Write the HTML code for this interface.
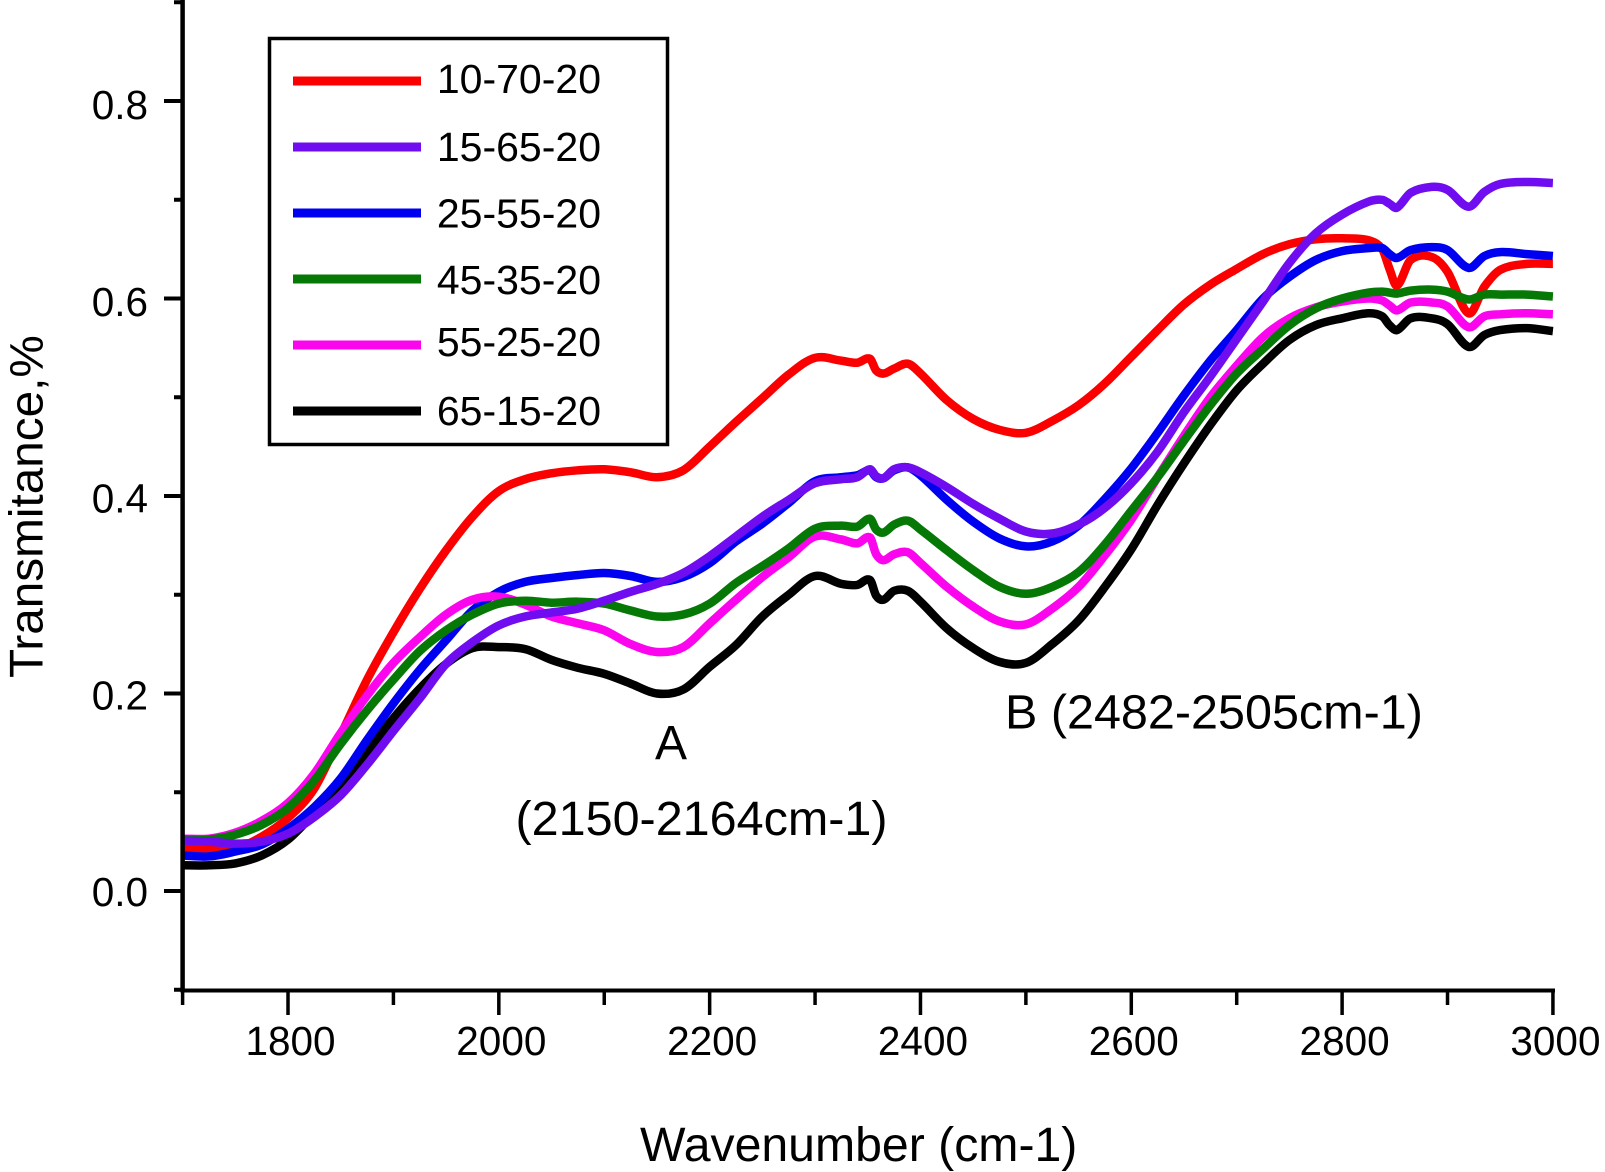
<!DOCTYPE html>
<html lang="en">
<head>
<meta charset="utf-8">
<title>Transmittance vs Wavenumber</title>
<style>
html,body{margin:0;padding:0;background:#fff;}
svg{display:block;}
text{font-family:"Liberation Sans",Arial,sans-serif;fill:#000;}
</style>
</head>
<body>
<svg id="chart" xmlns="http://www.w3.org/2000/svg" width="1605" height="1172" viewBox="0 0 1605 1172">
  <rect x="0" y="0" width="1605" height="1172" fill="#fff"/>
  <g id="series-layer"></g>
  <g id="axis-layer"></g>
  <rect x="269.5" y="38.5" width="398" height="406" fill="#fff" stroke="#000" stroke-width="3.5"/>
  <g id="legend-layer"></g>
  <text x="655" y="759" font-size="48">A</text>
  <text x="515.5" y="835" font-size="48.5">(2150-2164cm-1)</text>
  <text x="1005" y="728.5" font-size="48.5">B (2482-2505cm-1)</text>
  <text x="640" y="1161" font-size="48.2">Wavenumber (cm-1)</text>
  <text transform="translate(42.5 678) rotate(-90)" font-size="47.7">Transmitance,%</text>
</svg>
<script>
const wavenumbers = [1700,1725,1750,1775,1800,1825,1850,1875,1900,1925,1950,1975,2000,2025,2050,2075,2100,2125,2150,2175,2200,2225,2250,2275,2300,2325,2340,2352,2358,2365,2375,2388,2400,2425,2450,2475,2500,2525,2550,2575,2600,2625,2650,2675,2700,2725,2750,2775,2800,2825,2838,2845,2852,2865,2885,2900,2920,2935,2950,2975,3000];

const red1070 = [.043,.042,.043,.055,.074,.104,.158,.214,.262,.306,.345,.379,.405,.417,.423,.426,.427,.424,.419,.426,.450,.475,.499,.523,.540,.537,.535,.539,.527,.524,.529,.534,.524,.497,.478,.467,.464,.476,.492,.514,.541,.568,.594,.614,.630,.645,.655,.660,.661,.659,.650,.630,.613,.639,.642,.627,.585,.612,.629,.635,.635];
const purple1565 = [.051,.050,.048,.050,.058,.075,.097,.128,.162,.195,.230,.252,.269,.278,.282,.286,.294,.303,.311,.322,.339,.359,.379,.396,.413,.417,.419,.427,.420,.418,.427,.429,.424,.409,.392,.377,.364,.362,.371,.388,.413,.445,.485,.521,.559,.597,.636,.666,.685,.698,.700,.696,.692,.707,.713,.710,.693,.708,.716,.718,.717];
const blue2555 = [.036,.035,.040,.047,.063,.085,.114,.153,.190,.224,.254,.284,.303,.313,.317,.320,.322,.319,.313,.318,.332,.354,.372,.393,.415,.419,.421,.426,.419,.418,.426,.429,.421,.396,.374,.357,.349,.354,.370,.397,.428,.464,.502,.537,.568,.600,.622,.639,.648,.651,.651,.645,.641,.649,.652,.649,.631,.643,.647,.645,.643];
const green4535 = [.052,.052,.057,.067,.084,.112,.149,.183,.214,.243,.264,.280,.291,.294,.292,.293,.291,.284,.278,.280,.291,.312,.329,.347,.367,.370,.369,.377,.366,.363,.371,.375,.366,.345,.325,.308,.301,.308,.323,.351,.385,.419,.456,.492,.524,.549,.573,.590,.600,.606,.607,.606,.605,.608,.609,.607,.599,.604,.604,.604,.602];
const magenta5525 = [.053,.053,.059,.071,.089,.119,.160,.198,.231,.257,.280,.295,.298,.290,.278,.271,.264,.250,.242,.247,.271,.295,.318,.338,.359,.356,.352,.358,.341,.335,.341,.343,.332,.308,.288,.273,.270,.286,.308,.340,.376,.419,.461,.500,.532,.561,.580,.591,.597,.600,.598,.593,.588,.596,.596,.592,.571,.582,.584,.585,.584];
const black6515 = [.026,.026,.028,.036,.052,.079,.108,.141,.175,.205,.230,.246,.247,.245,.234,.226,.220,.210,.200,.204,.227,.249,.278,.300,.319,.311,.310,.315,.299,.295,.304,.304,.293,.266,.246,.232,.231,.250,.274,.308,.346,.391,.433,.472,.507,.534,.558,.573,.580,.585,.582,.573,.568,.580,.580,.574,.551,.563,.568,.570,.567];

const legendLabels = ["10-70-20","15-65-20","25-55-20","45-35-20","55-25-20","65-15-20"];
const legendColors = ["#fa0000","#6f0cf0","#0000f0","#067806","#fb05ef","#000000"];
const xMajorTicks = [1800,2000,2200,2400,2600,2800,3000];
const xMinorTicks = [1700,1900,2100,2300,2500,2700,2900];
const yMajorTicks = [0.0,0.2,0.4,0.6,0.8];
const yMinorTicks = [-0.1,0.1,0.3,0.5,0.7,0.9];

const NS = "http://www.w3.org/2000/svg";
const xScale = w => 182.6 + (w - 1700) * 1.0541;
const yScale = v => 891 - v * 987.5;

function make(tag, attrs, parent) {
  const el = document.createElementNS(NS, tag);
  for (const k in attrs) el.setAttribute(k, attrs[k]);
  parent.appendChild(el);
  return el;
}

function smoothPath(xs, ys) {
  const pts = xs.map((w, i) => [xScale(w), yScale(ys[i])]);
  let d = "M" + pts[0][0].toFixed(1) + " " + pts[0][1].toFixed(1);
  for (let i = 0; i < pts.length - 1; i++) {
    const p0 = pts[Math.max(i - 1, 0)], p1 = pts[i], p2 = pts[i + 1], p3 = pts[Math.min(i + 2, pts.length - 1)];
    const h = p2[0] - p1[0];
    const m1 = (p2[1] - p0[1]) / (p2[0] - p0[0]);
    const m2 = (p3[1] - p1[1]) / (p3[0] - p1[0]);
    d += "C" + (p1[0] + h / 3).toFixed(1) + " " + (p1[1] + m1 * h / 3).toFixed(1) + " " +
         (p2[0] - h / 3).toFixed(1) + " " + (p2[1] - m2 * h / 3).toFixed(1) + " " +
         p2[0].toFixed(1) + " " + p2[1].toFixed(1);
  }
  return d;
}

const seriesLayer = document.getElementById("series-layer");
const drawOrder = [
  ["10-70-20", red1070, legendColors[0]],
  ["65-15-20", black6515, legendColors[5]],
  ["25-55-20", blue2555, legendColors[2]],
  ["55-25-20", magenta5525, legendColors[4]],
  ["45-35-20", green4535, legendColors[3]],
  ["15-65-20", purple1565, legendColors[1]]
];
drawOrder.forEach(s => {
  const path = make("path", {d: smoothPath(wavenumbers, s[1]), fill: "none", stroke: s[2], "stroke-width": 8.5, "stroke-linejoin": "round", "stroke-linecap": "butt"}, seriesLayer);
  
  
});

const axisLayer = document.getElementById("axis-layer");
const yAxisLine = make("line", {x1: 182.6, y1: 0, x2: 182.6, y2: 992.5, stroke: "#000", "stroke-width": 4.5}, axisLayer);


const xAxisLine = make("line", {x1: 180.5, y1: 990.5, x2: 1555, y2: 990.5, stroke: "#000", "stroke-width": 4}, axisLayer);



xMajorTicks.forEach(w => {
  const t = make("line", {x1: xScale(w), y1: 990, x2: xScale(w), y2: 1015, stroke: "#000", "stroke-width": 3.5}, axisLayer);
  
  
  const l = make("text", {x: xScale(w) + 2.5, y: 1055, "font-size": 40.5, "text-anchor": "middle"}, axisLayer);
  
  
  l.textContent = String(w);
});
xMinorTicks.forEach(w => {
  const t = make("line", {x1: xScale(w), y1: 990, x2: xScale(w), y2: 1005, stroke: "#000", "stroke-width": 3.5}, axisLayer);
  
  
});
yMajorTicks.forEach(v => {
  const t = make("line", {x1: 164, y1: yScale(v), x2: 183, y2: yScale(v), stroke: "#000", "stroke-width": 4}, axisLayer);
  
  
  const l = make("text", {x: 148, y: yScale(v) + 15 + v * 3.75, "font-size": 40.5, "text-anchor": "end"}, axisLayer);
  
  
  l.textContent = v.toFixed(1);
});
yMinorTicks.forEach(v => {
  const t = make("line", {x1: 174, y1: yScale(v), x2: 183, y2: yScale(v), stroke: "#000", "stroke-width": 4}, axisLayer);
  
  
});

const legendLayer = document.getElementById("legend-layer");
const legendRowTop = 81, legendRowGap = 66;
const legendTextShift = [12, 14, 14.5, 15, 11, 14];
legendLabels.forEach((name, i) => {
  const y = legendRowTop + i * legendRowGap;
  const ln = make("line", {x1: 293, y1: y, x2: 421, y2: y, stroke: legendColors[i], "stroke-width": 9}, legendLayer);
  
  
  const tx = make("text", {x: 601, y: y + legendTextShift[i], "font-size": 41, "text-anchor": "end"}, legendLayer);
  
  
  tx.textContent = name;
});
</script>
</body>
</html>
